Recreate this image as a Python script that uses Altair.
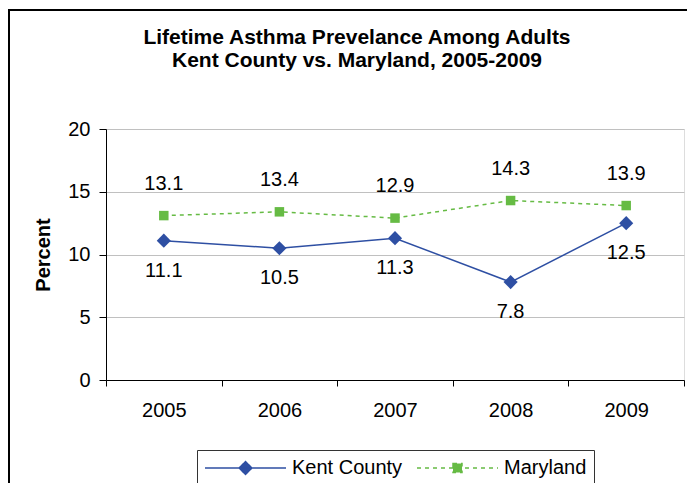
import altair as alt
import pandas as pd

years = ["2005", "2006", "2007", "2008", "2009"]
kent = [11.1, 10.5, 11.3, 7.8, 12.5]
maryland = [13.1, 13.4, 12.9, 14.3, 13.9]
series_names = ["Kent County", "Maryland"]

rows = []
for y, v in zip(years, kent):
    rows.append({"year": y, "value": v, "series": "Kent County"})
for y, v in zip(years, maryland):
    rows.append({"year": y, "value": v, "series": "Maryland"})
df = pd.DataFrame(rows)

BLUE = "#2E4FA3"
GREEN = "#66BB44"
FONT = "Liberation Sans"

x_enc = alt.X(
    "year:N",
    bandPosition=0.5,
    scale=alt.Scale(type="band", paddingInner=0, paddingOuter=0),
    axis=alt.Axis(
        title=None, labelAngle=0, tickBand="extent", tickSize=6, labelPadding=14,
        labelFontSize=20, labelFont=FONT, labelColor="black", domainColor="black",
        tickColor="black", grid=False,
    ),
)
y_enc = alt.Y(
    "value:Q",
    scale=alt.Scale(domain=[0, 20], nice=False),
    axis=alt.Axis(
        values=[0, 5, 10, 15, 20], title="Percent", titleFontSize=20, titleFont=FONT,
        titleFontWeight="bold", titleColor="black", titlePadding=14,
        labelFontSize=20, labelFont=FONT, labelColor="black", labelPadding=9,
        tickSize=7, tickColor="black", domainColor="black", gridColor="#C0C0C0",
    ),
)

base = alt.Chart(df).encode(x=x_enc, y=y_enc)

frame = alt.Chart(alt.Data(values=[{"a": 1}])).mark_rect(
    fillOpacity=0, stroke="black", strokeWidth=2
).encode(
    x=alt.value(-97), x2=alt.value(800), y=alt.value(-119), y2=alt.value(700)
)

kent_b = base.transform_filter(alt.datum.series == "Kent County")
md_b = base.transform_filter(alt.datum.series == "Maryland")

kent_line = kent_b.mark_line(color=BLUE, strokeWidth=1.5)
md_line = md_b.mark_line(color=GREEN, strokeWidth=1.5, strokeDash=[4, 4])
kent_pts = kent_b.mark_point(shape="diamond", filled=True, color=BLUE, size=200, opacity=1)
md_pts = md_b.mark_point(shape="square", filled=True, color=GREEN, size=90, opacity=1)
kent_lbl = kent_b.mark_text(dy=30, fontSize=20, font=FONT, color="black").encode(
    text=alt.Text("value:Q", format=".1f"))
md_lbl = md_b.mark_text(dy=-32, fontSize=20, font=FONT, color="black").encode(
    text=alt.Text("value:Q", format=".1f"))

paths = [
    "M-4.05,0L4.05,0M0,-0.64L0.64,0L0,0.64L-0.64,0Z",
    "M-4.05,0L4.05,0M-0.45,-0.45L0.45,-0.45L0.45,0.45L-0.45,0.45Z",
]
legend = alt.Legend(
    title=None, orient="none", legendX=91, legendY=321, direction="horizontal",
    strokeColor="#333333", padding=7, labelFontSize=20, labelFont=FONT,
    labelColor="black", labelOffset=35.5, symbolOffset=30.5, columnPadding=11,
    symbolSize=400, symbolStrokeWidth=1.5, symbolOpacity=1,
)
dummy = base.transform_filter("false").mark_point(filled=True).encode(
    fill=alt.Fill("series:N", scale=alt.Scale(domain=series_names, range=[BLUE, GREEN]), legend=legend),
    stroke=alt.Stroke("series:N", scale=alt.Scale(domain=series_names, range=[BLUE, GREEN]), legend=legend),
    shape=alt.Shape("series:N", scale=alt.Scale(domain=series_names, range=paths), legend=legend),
    strokeDash=alt.StrokeDash("series:N", scale=alt.Scale(domain=series_names, range=[[1, 0], [4, 4]]), legend=legend),
)

chart = alt.layer(
    frame, kent_line, md_line, kent_pts, md_pts, kent_lbl, md_lbl, dummy
).properties(
    width=578, height=251,
    padding={"left": 98, "top": 121, "right": 3, "bottom": 103},
    autosize=alt.AutoSizeParams(type="none"),
    title=alt.TitleParams(
        text=["Lifetime Asthma Prevelance Among Adults", "Kent County vs. Maryland, 2005-2009"],
        fontSize=21, font=FONT, fontWeight="bold", color="black", anchor="middle",
        frame="group", dx=-38, offset=0, dy=62, lineHeight=23,
    ),
).configure_view(stroke="#A0A0A0", strokeWidth=1).configure(background="white")

chart.save("out.html", embed_options={"renderer": "svg", "actions": False})
